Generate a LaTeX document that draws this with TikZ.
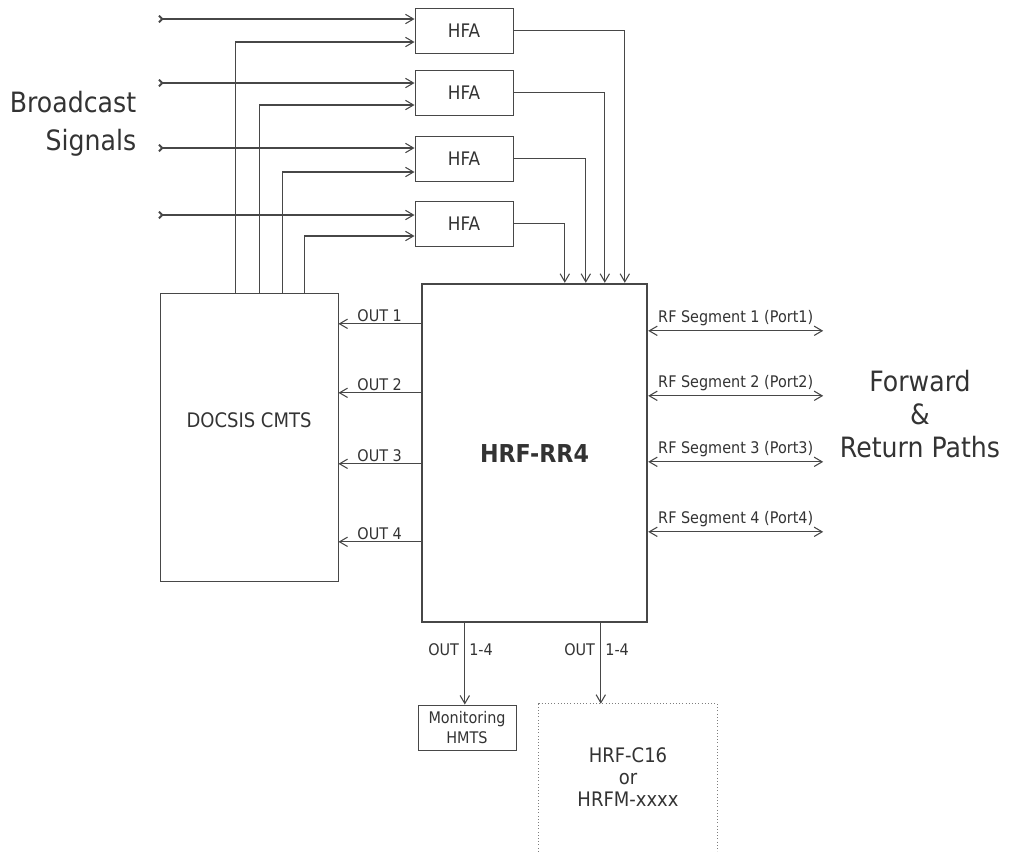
\documentclass[tikz,border=0pt]{standalone}
\usepackage{fontspec}
\setmainfont{DejaVu Sans}[FakeStretch=0.9]
\usepackage{tikz}
\usetikzlibrary{positioning, arrows.meta, calc}
\definecolor{nInk}{HTML}{333333}
\definecolor{nLine}{HTML}{474747}
\tikzset{
  >={Straight Barb[length=6pt,width=7pt]},
  box/.style={draw=nLine, line width=0.7pt, inner sep=0pt, text=nInk, align=center},
  hfabox/.style={box, minimum width=73.5pt, minimum height=33.75pt,
    font=\fontsize{14}{16}\selectfont},
  sig/.style={draw=nLine, line width=0.8pt},
  lbl/.style={text=nInk, font=\fontsize{12}{13}\selectfont, inner sep=1pt},
  bigtxt/.style={text=nInk, font=\fontsize{21}{25}\selectfont, align=center},
  feed/.style={sig, {Straight Barb[reversed,length=2.5pt,width=5pt,line width=1.4pt]}-{Straight Barb[length=6pt,width=7pt]}},
}

\begin{document}
\begin{tikzpicture}[x=0.75pt, y=-0.75pt]
  \useasboundingbox (0,0) rectangle (1009,851);
  % main units
  \node[box, line width=1.8pt, minimum width=168.75pt, minimum height=253.5pt,
    font=\bfseries\fontsize{18.5}{20}\selectfont] (hrf) at (534.5,453) {HRF-RR4};
  \node[box, minimum width=133.5pt, minimum height=216pt] (cmts) at (249,437) {};
  \node[text=nInk, font=\fontsize{15}{17}\selectfont] (cmtstxt) at ($(cmts)+(0,-17)$) {DOCSIS CMTS};
  \node[box, minimum width=73.5pt, minimum height=33.75pt,
    font=\fontsize{12}{15}\selectfont] (mon) at (467,727.5) {Monitoring\\HMTS};
  \node[text=nInk, align=center, minimum width=133.5pt, minimum height=110.25pt,
    font=\fontsize{15}{16.5}\selectfont] (c16) at (628,777.5) {HRF-C16\\or\\HRFM-xxxx};
  \draw[nLine!70, dotted] (c16.south west) |- (c16.north east) -- (c16.south east);
  % side texts
  \node[bigtxt, align=right, font=\fontsize{21}{28.5}\selectfont] (bcast) at (73,124) {Broadcast\\Signals};
  \node[bigtxt] (paths) at (920,414) {Forward\\\&\\Return Paths};
  % amplifiers and their feeds
  \foreach \n/\y/\yb/\yc/\xc/\xo in {1/30.5/19/42/76/204, 2/92.5/83/105/100/184,
                                      3/158.5/148/172/123/165, 4/223.5/215/236/145/144} {
    \node[hfabox] (h\n) at (464,\y) {HFA};
    \coordinate (b\n) at (158,\yb);
    \coordinate (c\n) at (0,\yc);
    \draw[feed] (b\n) -- (b\n -| h\n.west);
    \draw[sig, ->] ($(cmts.north west)+(\xc,0)$) |- (h\n.west |- c\n);
    \draw[sig, ->] (h\n.east) -| ($(hrf.north west)+(\xo,0)$);
  }
  % outputs to CMTS
  \foreach \n/\y in {1/41, 2/110, 3/181, 4/259} {
    \coordinate (o\n) at ($(hrf.north west)+(0,\y)$);
    \draw[sig, ->] (o\n) -- node[lbl, above] {OUT \n} (o\n -| cmts.east);
  }
  % RF segments
  \foreach \n/\y in {1/48, 2/113, 3/179, 4/249} {
    \coordinate (r\n) at ($(hrf.north east)+(0,\y)$);
    \coordinate (e\n) at ($(r\n)+(175,0)$);
    \draw[sig, <->] (r\n) -- node[lbl, above, yshift=2pt] {RF Segment \n\ (Port\n)} (e\n);
  }
  % bottom outputs
  \foreach \n/\x/\tgt in {1/44/mon, 2/180/c16} {
    \coordinate (d\n) at ($(hrf.south west)+(\x,0)$);
    \draw[sig, ->] (d\n) -- (d\n |- \tgt.north)
      node[lbl, pos=0.33, left, inner sep=4pt] {OUT}
      node[lbl, pos=0.33, right, inner sep=3pt] {1-4};
  }
\end{tikzpicture}
\end{document}
